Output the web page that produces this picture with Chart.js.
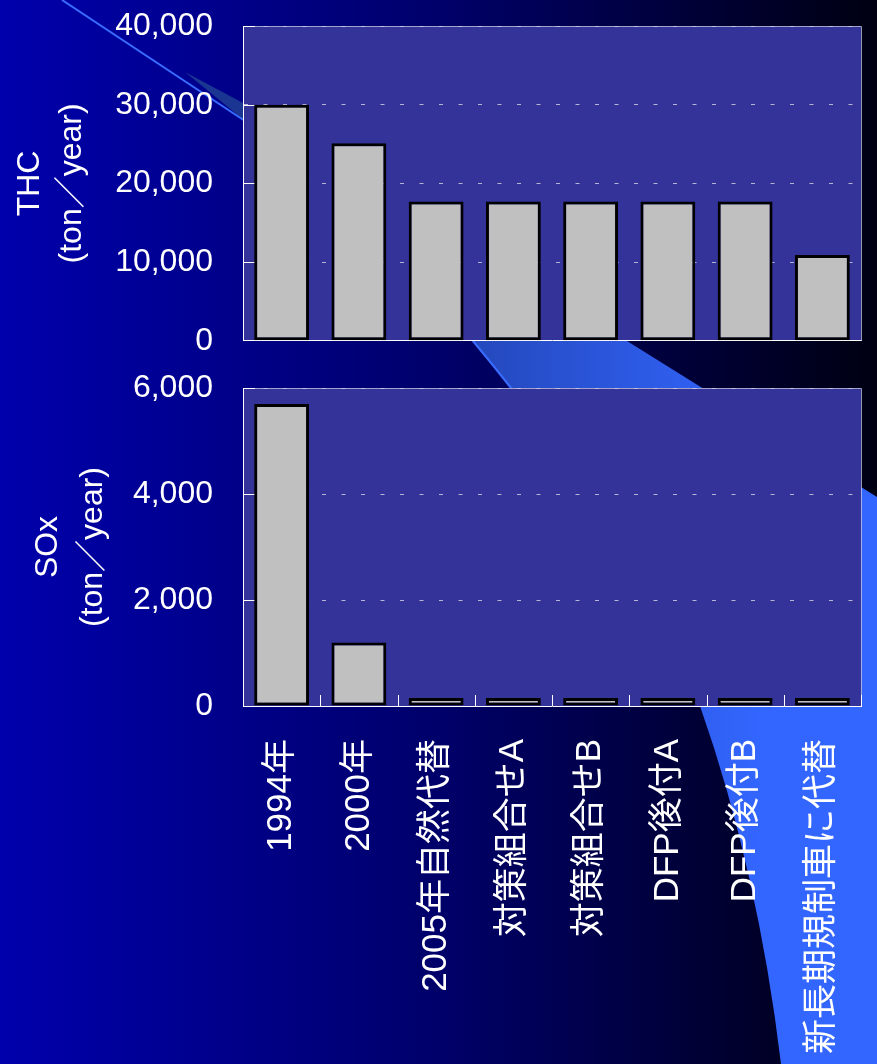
<!DOCTYPE html>
<html>
<head>
<meta charset="utf-8">
<script src="https://cdn.jsdelivr.net/npm/chart.js@4.4.1/dist/chart.umd.min.js"></script>
<style>
  html, body { margin: 0; padding: 0; width: 877px; height: 1064px; overflow: hidden; background: #000060; }
  #bg { position: absolute; left: 0; top: 0; }
  .box { position: absolute; left: 0; width: 877px; }
  #topBox { top: 0; height: 360px; }
  #bottomBox { top: 360px; height: 704px; }
</style>
</head>
<body>
<canvas id="bg" width="877" height="1064"></canvas>
<div class="box" id="topBox"><canvas id="thcChart"></canvas></div>
<div class="box" id="bottomBox"><canvas id="soxChart"></canvas></div>
<script>
// emission scenarios
const categories = ['1994年', '2000年', '2005年自然代替', '対策組合せA', '対策組合せB', 'DFP後付A', 'DFP後付B', '新長期規制車に代替'];
const thcValues = [30000, 25100, 17700, 17700, 17700, 17700, 17700, 10900];
const soxValues = [5700, 1200, 150, 150, 150, 150, 150, 150];

// axis ranges
const thcMax = 40000, thcStep = 10000;
const soxMax = 6000, soxStep = 2000;
const thcTitle = ['THC', '(ton／year)'];
const soxTitle = ['SOx', '(ton／year)'];

const FONT = '"Liberation Sans", "Noto Sans CJK JP", sans-serif';

// slide background: dark blue gradient with the light blue swoosh
function drawBackground() {
    const ctx = document.getElementById('bg').getContext('2d');
    const g = ctx.createLinearGradient(0, 0, 877, 0);
    g.addColorStop(0, '#0000ac');
    g.addColorStop(0.5, '#00006a');
    g.addColorStop(1, '#000012');
    ctx.fillStyle = g;
    ctx.fillRect(0, 0, 877, 1064);

    // big band going down to the bottom right
    const bg = ctx.createLinearGradient(470, 0, 760, 0);
    bg.addColorStop(0, '#2448bc');
    bg.addColorStop(1, '#3366ff');
    ctx.fillStyle = bg;
    ctx.beginPath();
    ctx.moveTo(439, 300);
    ctx.lineTo(473, 341);
    ctx.quadraticCurveTo(645, 548, 700, 706);
    ctx.quadraticCurveTo(758, 871, 781, 1064);
    ctx.lineTo(877, 1064);
    ctx.lineTo(877, 497);
    ctx.lineTo(627, 341);
    ctx.lineTo(561, 300);
    ctx.closePath();
    ctx.fill();

    ctx.strokeStyle = '#3a6cff';
    ctx.lineWidth = 2;
    ctx.beginPath();
    ctx.moveTo(439, 300);
    ctx.lineTo(473, 341);
    ctx.quadraticCurveTo(645, 548, 700, 706);
    ctx.stroke();

    // thin streak at the top left
    ctx.fillStyle = '#1a3592';
    ctx.beginPath();
    ctx.moveTo(185, 72);
    ctx.lineTo(245, 104);
    ctx.lineTo(245, 121);
    ctx.closePath();
    ctx.fill();
    ctx.strokeStyle = '#3a6cff';
    ctx.beginPath();
    ctx.moveTo(62, 0);
    ctx.lineTo(245, 121);
    ctx.stroke();
}
drawBackground();

// plot area fill, frame and the short inward tick marks
const plotDecor = {
    id: 'plotDecor',
    beforeDraw(chart) {
        const a = chart.chartArea;
        const ctx = chart.ctx;
        ctx.save();
        ctx.fillStyle = '#333399';
        ctx.fillRect(a.left, a.top, a.right - a.left, a.bottom - a.top);
        ctx.restore();
    },
    beforeDatasetsDraw(chart, args, opts) {
        const a = chart.chartArea;
        const ctx = chart.ctx;
        ctx.save();
        ctx.lineWidth = 1;
        ctx.strokeStyle = 'rgba(200,200,225,0.75)';
        ctx.beginPath();
        ctx.moveTo(a.left, a.top + 0.5);
        ctx.lineTo(a.right + 0.5, a.top + 0.5);
        ctx.lineTo(a.right + 0.5, a.bottom);
        ctx.stroke();

        ctx.strokeStyle = '#ffffff';
        const y = chart.scales.y;
        y.ticks.forEach(t => {
            if (t.value === 0) return;
            const py = Math.round(y.getPixelForValue(t.value)) + 0.5;
            ctx.beginPath();
            ctx.moveTo(a.left, py);
            ctx.lineTo(a.left + 12, py);
            ctx.stroke();
        });
        if (opts.xTicks) {
            const n = chart.data.labels.length;
            const w = (a.right - a.left) / n;
            for (let i = 1; i <= n; i++) {
                const px = Math.round(a.left + i * w) + 0.5;
                ctx.beginPath();
                ctx.moveTo(px, a.bottom);
                ctx.lineTo(px, a.bottom - 11);
                ctx.stroke();
            }
        }
        ctx.restore();
    }
};

function makeChart(id, values, yMax, yStep, title, cfg) {
    return new Chart(document.getElementById(id), {
        type: 'bar',
        data: {
            labels: categories,
            datasets: [{
                data: values,
                backgroundColor: '#c0c0c0',
                borderColor: '#000000',
                borderWidth: 3,
                borderSkipped: false,
                barPercentage: 0.71,
                categoryPercentage: 1.0
            }]
        },
        options: {
            responsive: true,
            maintainAspectRatio: false,
            animation: false,
            layout: { padding: { top: cfg.padTop, right: 16, left: 0, bottom: 0 } },
            plugins: {
                legend: { display: false },
                tooltip: { enabled: false },
                plotDecor: { xTicks: cfg.showLabels }
            },
            scales: {
                x: {
                    // invisible tick marks keep the rotated labels off the axis
                    grid: { display: false, drawTicks: cfg.showLabels, tickLength: 33, tickColor: 'transparent' },
                    border: { color: '#ffffff', width: 1 },
                    ticks: {
                        display: cfg.showLabels,
                        color: '#ffffff',
                        font: { family: FONT, size: 35 },
                        padding: 0,
                        autoSkip: false,
                        minRotation: 90,
                        maxRotation: 90
                    },
                    afterFit: s => { s.height = cfg.xHeight; }
                },
                y: {
                    min: 0,
                    max: yMax,
                    ticks: {
                        stepSize: yStep,
                        color: '#ffffff',
                        font: { family: FONT, size: 32 },
                        padding: 0,
                        callback: v => v.toLocaleString('en-US')
                    },
                    grid: { color: 'rgba(205,205,225,0.85)', drawTicks: true, tickLength: 30, tickColor: 'transparent', lineWidth: 1 },
                    border: { color: '#ffffff', width: 1, dash: [4, 15.5] },
                    title: {
                        display: true,
                        text: title,
                        color: '#ffffff',
                        font: { family: FONT, size: 32, lineHeight: cfg.titleLine },
                        padding: { top: cfg.titlePad, bottom: 0 }
                    },
                    afterFit: s => { s.width = 243; }
                }
            }
        },
        plugins: [plotDecor]
    });
}

makeChart('thcChart', thcValues, thcMax, thcStep, thcTitle,
    { padTop: 26, xHeight: 19, showLabels: false, titleLine: 1.31, titlePad: 9 });
makeChart('soxChart', soxValues, soxMax, soxStep, soxTitle,
    { padTop: 28, xHeight: 358, showLabels: true, titleLine: 1.42, titlePad: 25 });
</script>
</body>
</html>
